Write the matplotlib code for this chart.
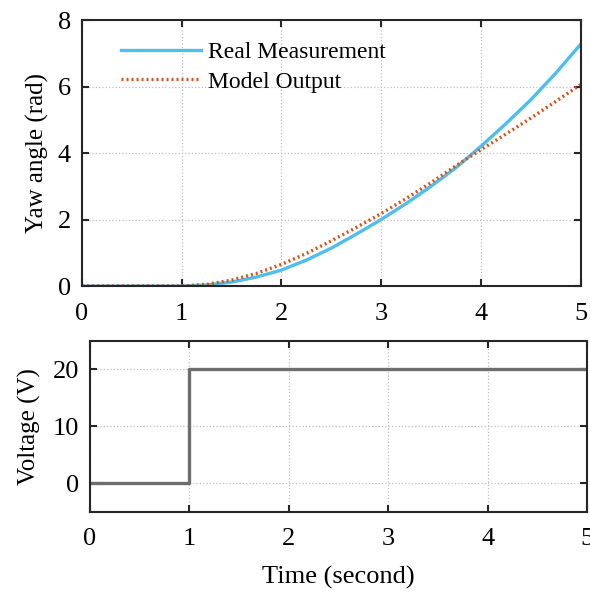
import numpy as np
import matplotlib
matplotlib.use('Agg')
import matplotlib.pyplot as plt

plt.rcParams['font.family'] = ['Liberation Serif', 'DejaVu Serif']

# yaw angle data (rad)
t = [0, 1.0, 1.25, 1.5, 1.75, 2.0, 2.25, 2.5, 2.75, 3.0, 3.25, 3.5, 3.75, 4.0, 4.25, 4.5, 4.75, 5.0]
real_meas = [0, 0, 0.03, 0.12, 0.27, 0.48, 0.78, 1.14, 1.56, 2.0, 2.48, 3.0, 3.56, 4.2, 4.88, 5.6, 6.4, 7.27]
model_out = [0, 0, 0.05, 0.18, 0.38, 0.65, 0.98, 1.36, 1.76, 2.18, 2.63, 3.11, 3.62, 4.1, 4.57, 5.05, 5.55, 6.06]

# input voltage (step)
t_v = [0, 1, 5]
volt = [0, 20, 20]

spine_c = '#262626'

fig = plt.figure(figsize=(5.9, 5.91), dpi=100)
ax1 = fig.add_axes([0.139, 0.516, 0.845, 0.450])
ax2 = fig.add_axes([0.1525, 0.134, 0.8425, 0.289])

ax1.plot(t, real_meas, color='#4DBEEE', lw=2.4, label='Real Measurement')
ax1.plot(t, model_out, color='#D95319', lw=2.4, ls=(0, (0.6, 0.9)), label='Model Output')
ax1.set_xlim(0, 5)
ax1.set_ylim(0, 8)
ax1.set_yticks([0, 2, 4, 6, 8])
ax1.set_ylabel('Yaw angle (rad)', fontsize=18, labelpad=6)
leg = ax1.legend(loc='upper left', frameon=False, fontsize=17, handlelength=3.4,
                 handletextpad=0.3, bbox_to_anchor=(0.035, 1.0), labelspacing=0.35)

ax2.plot(t_v, volt, color='#6E6E6E', lw=2.4, drawstyle='steps-post')
ax2.set_xlim(0, 5)
ax2.set_ylim(-5, 25)
ax2.set_yticks([0, 10, 20])
ax2.set_ylabel('Voltage (V)', fontsize=18, labelpad=8)
ax2.set_xlabel('Time (second)', fontsize=19, labelpad=11)

for ax in (ax1, ax2):
    ax.set_xticks([0, 1, 2, 3, 4, 5])
    ax.grid(True, ls=':', color='#BFBFBF', lw=0.9)
    ax.tick_params(direction='in', length=5, width=1.5, color=spine_c,
                   labelsize=19, top=True, right=True, pad=8)
    ax.tick_params(axis='x', pad=12)
    for s in ax.spines.values():
        s.set_color(spine_c)
        s.set_linewidth(1.5)

fig.savefig('out.png', dpi=100)
